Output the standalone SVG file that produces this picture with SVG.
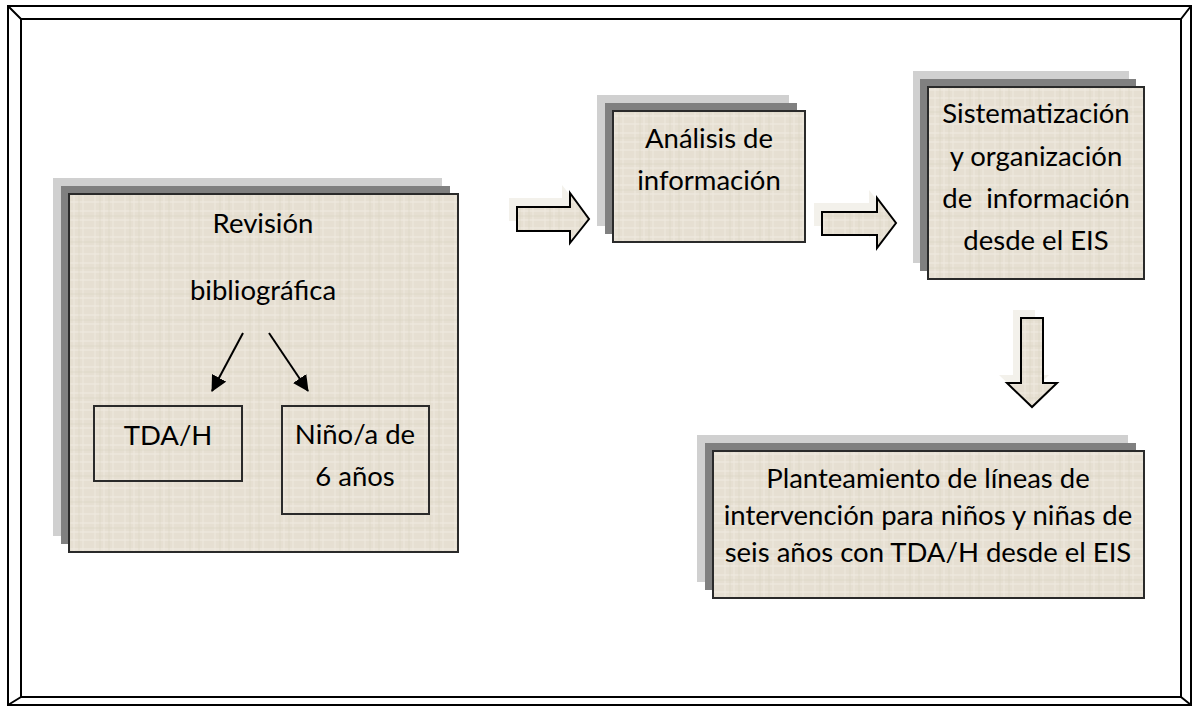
<svg xmlns="http://www.w3.org/2000/svg" width="1200" height="706" viewBox="0 0 1200 706">
<defs>
<pattern id="canvas" width="30" height="26" patternUnits="userSpaceOnUse">
<rect width="30" height="26" fill="#e6dfd2"/>
<path d="M0 3H30M0 12H30M0 20H30" stroke="#f1ece2" stroke-width="1"/>
<path d="M5 0V26M14 0V26M23 0V26" stroke="#efeadf" stroke-width="1"/>
<path d="M0 8H30M10 0V26M19 0V26" stroke="#dad2c3" stroke-width="0.6"/>
</pattern>
<marker id="ah" markerWidth="16" markerHeight="16" refX="15" refY="8" orient="auto" markerUnits="userSpaceOnUse" viewBox="0 0 16 16">
<path d="M0 0L16 8L0 16Z" fill="#000"/>
</marker>
<style>
.sh1{fill:#d0d0d0}
.sh2{fill:#808080}
.box{fill:url(#canvas);stroke:#2a2a2a;stroke-width:2}
.sub{fill:none;stroke:#2a2a2a;stroke-width:2}
.t{font-family:Lato,"Open Sans","Liberation Sans",sans-serif;font-size:27.5px;fill:#000;text-anchor:middle;white-space:pre}
.blk{fill:url(#canvas);stroke:#000;stroke-width:2;stroke-linejoin:miter}
.bsh{fill:#f3f1eb}
.thin{stroke:#000;stroke-width:2;fill:none}
</style>
</defs>
<rect width="1200" height="706" fill="#fff"/>
<g id="frame" fill="none" stroke="#000" stroke-width="2">
<rect x="8" y="6" width="1183" height="699"/>
<rect x="21" y="19" width="1160" height="678"/>
<path d="M8 6L21 19M1191 6L1181 19M8 705L21 697M1191 705L1181 697"/>
</g>
<g id="n-revision">
<rect class="sh1" x="53" y="178" width="389" height="358"/>
<rect class="sh2" x="61" y="186" width="389" height="358"/>
<rect class="box" x="69" y="194" width="389" height="358"/>
<text class="t" x="263" y="233">Revisión</text>
<text class="t" x="263" y="300">bibliográfica</text>
</g>
<g id="n-tdah">
<rect class="sub" x="94" y="406" width="148" height="75"/>
<text class="t" x="168" y="445">TDA/H</text>
</g>
<g id="n-nino">
<rect class="sub" x="282" y="406" width="147" height="108"/>
<text class="t" x="355" y="444">Niño/a de</text>
<text class="t" x="355" y="486">6 años</text>
</g>
<g id="n-analisis">
<rect class="sh1" x="597" y="95" width="192" height="131"/>
<rect class="sh2" x="605" y="103" width="192" height="131"/>
<rect class="box" x="613" y="111" width="192" height="131"/>
<text class="t" x="709" y="148">Análisis de</text>
<text class="t" x="709" y="190">información</text>
</g>
<g id="n-sistematizacion">
<rect class="sh1" x="913" y="71" width="216" height="192"/>
<rect class="sh2" x="920" y="79" width="216" height="192"/>
<rect class="box" x="928" y="87" width="216" height="192"/>
<text class="t" x="1036" y="123">Sistematización</text>
<text class="t" x="1036" y="166">y organización</text>
<text class="t" x="1036" y="208">de  información</text>
<text class="t" x="1036" y="250">desde el EIS</text>
</g>
<g id="n-planteamiento">
<rect class="sh1" x="697" y="435" width="431" height="147"/>
<rect class="sh2" x="705" y="443" width="431" height="147"/>
<rect class="box" x="713" y="451" width="431" height="147"/>
<text class="t" x="928" y="488">Planteamiento de líneas de</text>
<text class="t" x="928" y="525">intervención para niños y niñas de</text>
<text class="t" x="928" y="562">seis años con TDA/H desde el EIS</text>
</g>
<g id="connectors">
<path class="bsh" d="M509 198H562V185L581 209L562 233V221H509Z"/>
<path class="blk" d="M517 207H570V193L589 219L570 243V231H517Z"/>
<path class="bsh" d="M814 203H869V190L888 214L869 238V226H814Z"/>
<path class="blk" d="M822 212H877V198L896 223L877 248V235H822Z"/>
<path class="bsh" d="M1013 310H1035V375H1049L1024 399L999 375H1013Z"/>
<path class="blk" d="M1021 318H1043V383H1057L1032 407L1007 383H1021Z"/>
<line class="thin" x1="243" y1="333" x2="212" y2="391" marker-end="url(#ah)"/>
<line class="thin" x1="269" y1="333" x2="308" y2="391" marker-end="url(#ah)"/>
</g>
</svg>
